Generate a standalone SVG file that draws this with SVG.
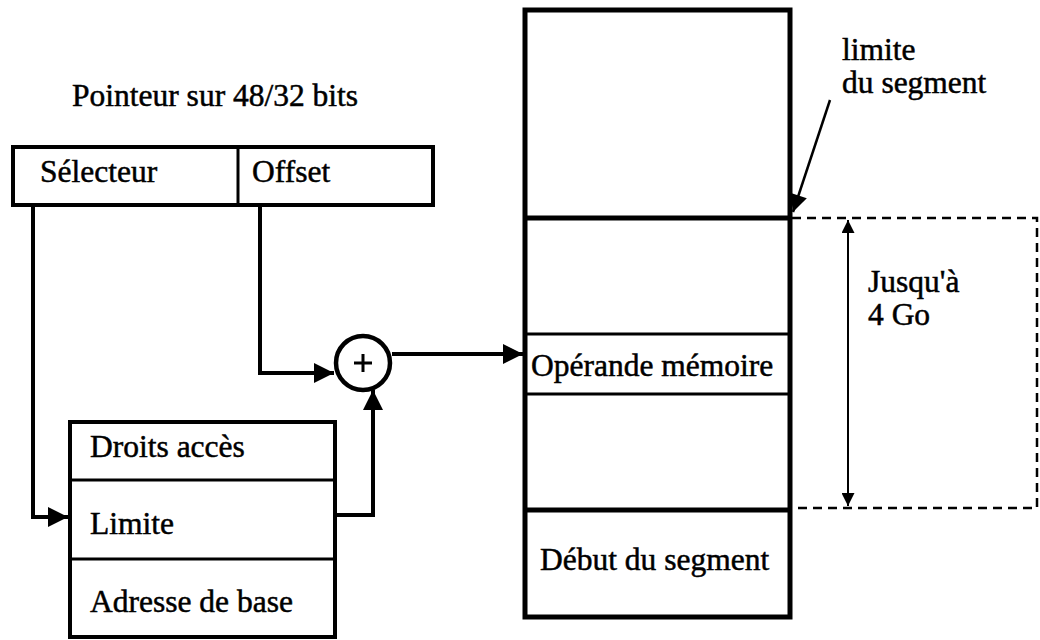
<svg xmlns="http://www.w3.org/2000/svg" width="1040" height="640" viewBox="0 0 1040 640">
<defs>
<style>
text{font-family:"Liberation Serif","Times New Roman",serif;font-size:31.5px;fill:#000;stroke:#000;stroke-width:0.5}
.box{fill:#fff;stroke:#000;stroke-width:4}
.thick{fill:none;stroke:#000;stroke-width:5}
.div{stroke:#000;stroke-width:3}
.conn{fill:none;stroke:#000;stroke-width:4}
.thin{fill:none;stroke:#000;stroke-width:2}
.dash{fill:none;stroke:#000;stroke-width:2.5;stroke-dasharray:9 6}
</style>
<marker id="ah" viewBox="0 0 10 10" refX="10" refY="5" markerWidth="5" markerHeight="5" markerUnits="strokeWidth" orient="auto">
<path d="M0,0 L10,5 L0,10 z" fill="#000"/>
</marker>
<marker id="ahs" viewBox="0 0 10 10" refX="10" refY="5" markerWidth="11" markerHeight="6.5" markerUnits="strokeWidth" orient="auto-start-reverse">
<path d="M0,0 L10,5 L0,10 z" fill="#000"/>
</marker>
<marker id="ahl" viewBox="0 0 10 10" refX="10" refY="5" markerWidth="9" markerHeight="7" markerUnits="strokeWidth" orient="auto">
<path d="M0,0 L10,5 L0,10 z" fill="#000"/>
</marker>
</defs>

<text id="title" x="72" y="106">Pointeur sur 48/32 bits</text>

<g id="pointer">
<rect class="box" x="13" y="147" width="420" height="58"/>
<line class="div" x1="238" y1="147" x2="238" y2="205"/>
<text x="40" y="182">Sélecteur</text>
<text x="252" y="182">Offset</text>
</g>

<g id="descriptor">
<rect class="box" x="70" y="422" width="265" height="215"/>
<line class="div" x1="70" y1="480" x2="335" y2="480"/>
<line class="div" x1="70" y1="559" x2="335" y2="559"/>
<text x="90" y="457">Droits accès</text>
<text x="90" y="534">Limite</text>
<text x="90" y="612">Adresse de base</text>
</g>

<g id="adder">
<circle cx="363" cy="363" r="27" fill="#fff" stroke="#000" stroke-width="4.5"/>
<path d="M354,363 H372 M363,354 V372" stroke="#000" stroke-width="3"/>
</g>

<g id="memory">
<rect class="thick" x="525" y="10" width="265" height="607" fill="#fff"/>
<line class="thick" x1="525" y1="218" x2="790" y2="218"/>
<line class="div" x1="525" y1="334" x2="790" y2="334"/>
<line class="div" x1="525" y1="394" x2="790" y2="394"/>
<line class="thick" x1="525" y1="510" x2="790" y2="510"/>
<text x="531" y="376">Opérande mémoire</text>
<text x="540" y="570">Début du segment</text>
</g>

<g id="range">
<path class="dash" d="M792,218 H1037 V508 H792"/>
<line class="thin" x1="848" y1="220" x2="848" y2="506" marker-start="url(#ahs)" marker-end="url(#ahs)"/>
<text x="868" y="292">Jusqu'à</text>
<text x="868" y="325">4 Go</text>
</g>

<g id="limit-label">
<text x="842" y="60">limite</text>
<text x="842" y="93">du segment</text>
</g>

<g id="connectors">
<path class="conn" d="M33,205 V517 H68" marker-end="url(#ah)"/>
<path class="conn" d="M260,205 V373 H334" marker-end="url(#ah)"/>
<path class="conn" d="M337,515 H373 V390" marker-end="url(#ah)"/>
<path class="conn" d="M392,354 H523" marker-end="url(#ah)"/>
<line x1="830" y1="100" x2="793" y2="212" stroke="#000" stroke-width="2.5" marker-end="url(#ahl)"/>
</g>
</svg>
